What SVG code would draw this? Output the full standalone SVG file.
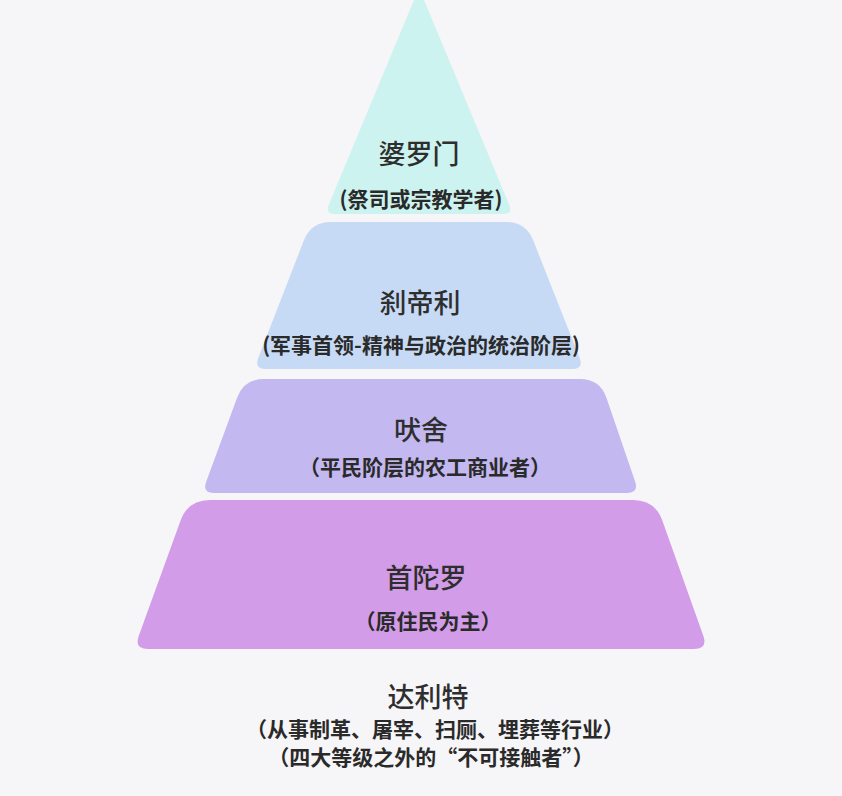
<svg xmlns="http://www.w3.org/2000/svg" width="842" height="796" viewBox="0 0 842 796">
<style>
.title{font-family:"Noto Sans CJK SC","Noto Sans CJK TC",sans-serif;font-size:27px;fill:#2e2e2e;text-anchor:middle;font-weight:500}
.sub{font-family:"Noto Sans CJK SC","Noto Sans CJK TC",sans-serif;font-size:21px;fill:#2a2a2a;text-anchor:middle;font-weight:700}
</style>
<rect x="0" y="0" width="842" height="796" fill="#f6f5f7"/>
<g id="brahmin">
<path d="M419,-12 L509.2,204.8 Q513,214 503,214 L335,214 Q325,214 328.8,204.8 Z" fill="#ccf3ef"/>
<text class="title" x="419" y="164">婆罗门</text>
<text class="sub" x="421" y="207">(祭司或宗教学者)</text>
</g>
<g id="kshatriya">
<path d="M331,222 L506,222 Q526,222 533.3,240.6 L579.6,357.8 Q584,369 572,369 L266,369 Q254,369 258.3,357.8 L303.8,240.6 Q311,222 331,222 Z" fill="#c6daf5"/>
<text class="title" x="420" y="313">刹帝利</text>
<text class="sub" x="421" y="353" font-size="20">(军事首领-精神与政治的统治阶层)</text>
</g>
<g id="vaishya">
<path d="M264,379 L580,379 Q600,379 606.5,397.9 L635.1,481.6 Q639,493 627,493 L214,493 Q202,493 206.2,481.7 L237.1,397.8 Q244,379 264,379 Z" fill="#c3b8f0"/>
<text class="title" x="421" y="440">吠舍</text>
<text class="sub" x="425" y="475">（平民阶层的农工商业者）</text>
</g>
<g id="shudra">
<path d="M210,500 L633,500 Q655,500 662.4,520.7 L703.3,635.8 Q708,649 694,649 L148,649 Q134,649 138.8,635.8 L180.5,520.7 Q188,500 210,500 Z" fill="#d39ce9"/>
<text class="title" x="426" y="588">首陀罗</text>
<text class="sub" x="428" y="629">（原住民为主）</text>
</g>
<g id="dalit">
<text class="title" x="428" y="707">达利特</text>
<text class="sub" x="435" y="737">（从事制革、屠宰、扫厕、埋葬等行业）</text>
<text class="sub" x="431" y="765">（四大等级之外的“不可接触者”）</text>
</g>
<g id="connectors"></g>
</svg>
